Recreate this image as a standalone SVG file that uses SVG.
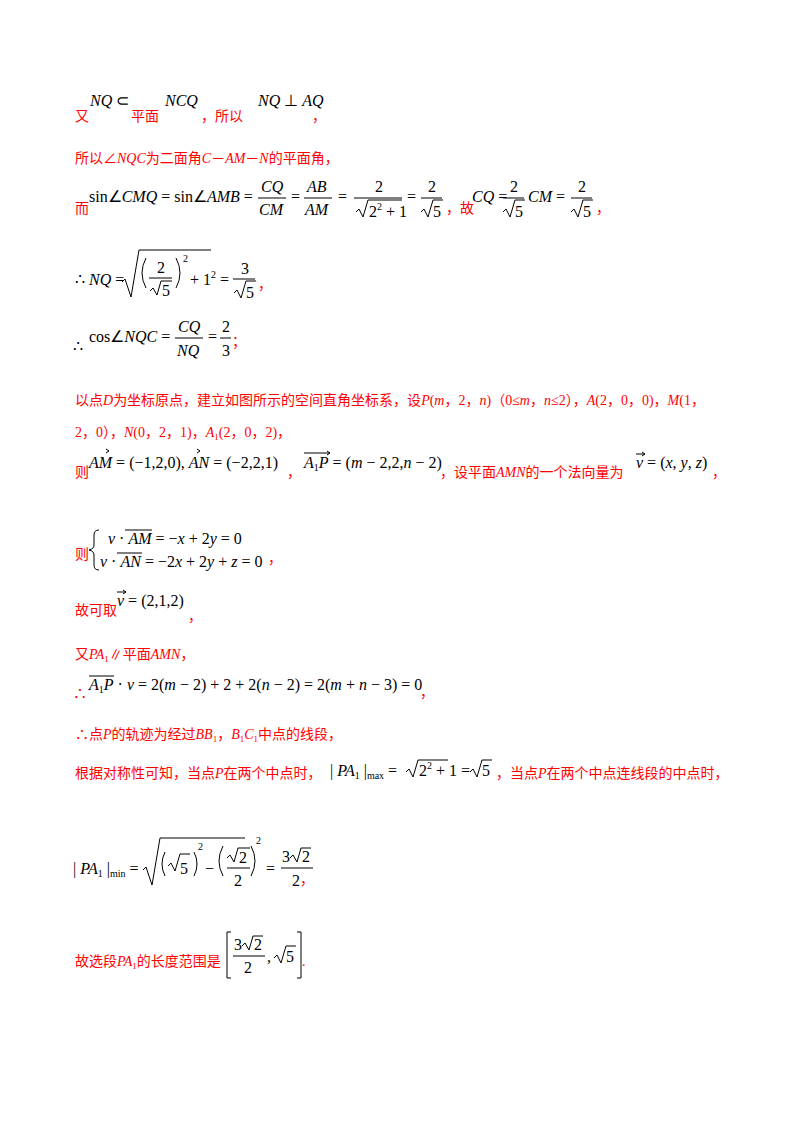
<svg xmlns="http://www.w3.org/2000/svg" width="800" height="1132" viewBox="0 0 800 1132">
<style>
.r{fill:#f00;font-family:"Liberation Serif","Noto Sans CJK SC",serif;font-size:14px}
.m{fill:#000;font-family:"Liberation Serif",serif;font-size:16px}
.i{font-style:italic}
.s{font-size:10px}
line,path.k{stroke:#000;stroke-width:1;fill:none}
</style>
<rect width="800" height="1132" fill="#fff"/>
<g id="l1">
<text class="r" x="75" y="121">又</text>
<text class="m" x="90" y="106"><tspan class="i">NQ</tspan> ⊂</text>
<text class="r" x="131" y="121">平面</text>
<text class="m i" x="165" y="106">NCQ</text>
<text class="r" x="201" y="121">，所以</text>
<text class="m" x="258" y="106"><tspan class="i">NQ</tspan> ⊥ <tspan class="i">AQ</tspan></text>
<text class="r" x="312" y="121">，</text>
</g>
<g id="l2"><text class="r" x="75" y="163">所以∠<tspan font-style="italic">NQC</tspan>为二面角<tspan font-style="italic">C</tspan>－<tspan font-style="italic">AM</tspan>－<tspan font-style="italic">N</tspan>的平面角，</text></g>
<g id="l3">
<text class="r" x="75" y="213">而</text>
<text class="m" x="89" y="202">sin∠<tspan class="i">CMQ</tspan> = sin∠<tspan class="i">AMB</tspan> =</text>
<text class="m i" x="261" y="192">CQ</text><line x1="258" y1="198" x2="286" y2="198"/><text class="m i" x="259" y="215">CM</text>
<text class="m" x="291" y="202">=</text>
<text class="m i" x="307" y="192">AB</text><line x1="304" y1="198" x2="332" y2="198"/><text class="m i" x="305" y="215">AM</text>
<text class="m" x="338" y="202">=</text>
<text class="m" x="375" y="192">2</text><line x1="354" y1="198" x2="402" y2="198"/>
<path class="k" d="M356 212 l3 -3 l4 8 l5 -17 h34"/><text class="m" x="369" y="217">2<tspan class="s" dy="-7">2</tspan><tspan dy="7"> + 1</tspan></text>
<text class="m" x="407" y="202">=</text>
<text class="m" x="428" y="192">2</text><line x1="421" y1="198" x2="442" y2="198"/>
<path class="k" d="M421 212 l3 -3 l4 8 l5 -17 h10"/><text class="m" x="433" y="217">5</text>
<text class="r" x="446" y="213">，故</text>
<text class="m" x="472" y="202"><tspan class="i">CQ</tspan> =</text>
<text class="m" x="510" y="192">2</text><line x1="503" y1="198" x2="524" y2="198"/>
<path class="k" d="M503 212 l3 -3 l4 8 l5 -17 h10"/><text class="m" x="515" y="217">5</text>
<text class="m" x="528" y="202"><tspan class="i">CM</tspan> =</text>
<text class="m" x="578" y="192">2</text><line x1="571" y1="198" x2="592" y2="198"/>
<path class="k" d="M571 212 l3 -3 l4 8 l5 -17 h10"/><text class="m" x="583" y="217">5</text>
<text class="r" x="596" y="213">，</text>
</g>
<g id="l4">
<text class="m" x="75" y="285">∴ <tspan class="i">NQ</tspan> =</text>
<path class="k" d="M122 282 l3 -3 l6 18 l8 -47 h72"/>
<path class="k" d="M146 258 q-8 15 0 30"/><path class="k" d="M176 258 q8 15 0 30"/>
<text class="m" x="157" y="273">2</text><line x1="149" y1="278" x2="172" y2="278"/>
<path class="k" d="M150 291 l3 -3 l4 7 l4 -14 h11"/><text class="m" x="162" y="296">5</text>
<text class="m s" x="183" y="262">2</text>
<text class="m" x="190" y="285">+ 1<tspan class="s" dy="-7">2</tspan></text>
<text class="m" x="220" y="285">=</text>
<text class="m" x="241" y="274">3</text><line x1="233" y1="279" x2="255" y2="279"/>
<path class="k" d="M234 293 l3 -3 l4 8 l5 -17 h10"/><text class="m" x="246" y="298">5</text>
<text class="r" x="258" y="289">，</text>
</g>
<g id="l5">
<text class="m" x="73" y="352">∴</text>
<text class="m" x="89" y="342">cos∠<tspan class="i">NQC</tspan> =</text>
<text class="m i" x="178" y="332">CQ</text><line x1="175" y1="338" x2="203" y2="338"/><text class="m i" x="177" y="356">NQ</text>
<text class="m" x="208" y="342">=</text>
<text class="m" x="222" y="332">2</text><line x1="220" y1="338" x2="231" y2="338"/><text class="m" x="222" y="356">3</text>
<text class="r" x="232" y="346">；</text>
</g>
<g id="l6">
<text class="r" x="75" y="405">以点<tspan font-style="italic">D</tspan>为坐标原点，建立如图所示的空间直角坐标系，设<tspan font-style="italic">P</tspan>(<tspan font-style="italic">m</tspan>，2，<tspan font-style="italic">n</tspan>)（0≤<tspan font-style="italic">m</tspan>，<tspan font-style="italic">n</tspan>≤2），<tspan font-style="italic">A</tspan>(2，0，0)，<tspan font-style="italic">M</tspan>(1，</text>
<text class="r" x="75" y="437">2，0），<tspan font-style="italic">N</tspan>(0，2，1)，<tspan font-style="italic">A</tspan><tspan font-size="9" dy="3">1</tspan><tspan dy="-3">(2，0，2)，</tspan></text>
</g>
<g id="l7">
<text class="r" x="75" y="477">则</text>
<text class="m" x="89" y="468"><tspan class="i">AM</tspan> = (−1,2,0), <tspan class="i">AN</tspan> = (−2,2,1)</text>
<path class="k" d="M106 453 l3 -2 l-3 -2"/><path class="k" d="M197 453 l3 -2 l-3 -2"/>
<text class="r" x="287" y="477">，</text>
<text class="m" x="304" y="468"><tspan class="i">A</tspan><tspan class="s" dy="3">1</tspan><tspan class="i" dy="-3">P</tspan> = (<tspan class="i">m</tspan> − 2,2,<tspan class="i">n</tspan> − 2)</text>
<line x1="304" y1="453" x2="330" y2="453"/><path class="k" d="M327 451 l3 2 l-3 2"/>
<text class="r" x="440" y="477">，设平面<tspan font-style="italic">AMN</tspan>的一个法向量为</text>
<text class="m" x="636" y="468"><tspan class="i">v</tspan> = (<tspan class="i">x</tspan>, <tspan class="i">y</tspan>, <tspan class="i">z</tspan>)</text>
<line x1="636" y1="454" x2="645" y2="454"/><path class="k" d="M642 452 l3 2 l-3 2"/>
<text class="r" x="712" y="477">，</text>
</g>
<g id="l8">
<text class="r" x="75" y="559">则</text>
<path class="k" d="M99 530 q-5 0 -5 5 v10 q0 4 -5 5 q5 1 5 5 v10 q0 5 5 5"/>
<text class="m" x="108" y="544"><tspan class="i">v</tspan> · <tspan class="i">AM</tspan> = −<tspan class="i">x</tspan> + 2<tspan class="i">y</tspan> = 0</text>
<line x1="125" y1="530" x2="152" y2="530"/>
<text class="m" x="100" y="567"><tspan class="i">v</tspan> · <tspan class="i">AN</tspan> = −2<tspan class="i">x</tspan> + 2<tspan class="i">y</tspan> + <tspan class="i">z</tspan> = 0</text>
<line x1="117" y1="553" x2="142" y2="553"/>
<text class="r" x="268" y="563">，</text>
</g>
<g id="l9">
<text class="r" x="75" y="615">故可取</text>
<text class="m" x="117" y="606"><tspan class="i">v</tspan> = (2,1,2)</text>
<line x1="117" y1="592" x2="126" y2="592"/><path class="k" d="M123 590 l3 2 l-3 2"/>
<text class="r" x="188" y="621">，</text>
</g>
<g id="l10"><text class="r" x="75" y="659">又<tspan font-style="italic">PA</tspan><tspan font-size="9" dy="3">1</tspan><tspan dy="-3">∥平面</tspan><tspan font-style="italic">AMN</tspan>，</text></g>
<g id="l11">
<text class="r" x="73" y="698">∴</text>
<text class="m" x="89" y="690"><tspan class="i">A</tspan><tspan class="s" dy="3">1</tspan><tspan class="i" dy="-3">P</tspan> · <tspan class="i">v</tspan> = 2(<tspan class="i">m</tspan> − 2) + 2 + 2(<tspan class="i">n</tspan> − 2) = 2(<tspan class="i">m</tspan> + <tspan class="i">n</tspan> − 3) = 0</text>
<line x1="89" y1="676" x2="114" y2="676"/>
<text class="r" x="420" y="697">，</text>
</g>
<g id="l12"><text class="r" x="75" y="739">∴点<tspan font-style="italic">P</tspan>的轨迹为经过<tspan font-style="italic">BB</tspan><tspan font-size="9" dy="3">1</tspan><tspan dy="-3">，</tspan><tspan font-style="italic">B</tspan><tspan font-size="9" dy="3">1</tspan><tspan font-style="italic" dy="-3">C</tspan><tspan font-size="9" dy="3">1</tspan><tspan dy="-3">中点的线段，</tspan></text></g>
<g id="l13">
<text class="r" x="75" y="778">根据对称性可知，当点<tspan font-style="italic">P</tspan>在两个中点时，</text>
<text class="m" x="330" y="776">| <tspan class="i">PA</tspan><tspan class="s" dy="3">1</tspan><tspan dy="-3"> |</tspan><tspan class="s" dy="3">max</tspan><tspan dy="-3"> =</tspan></text>
<path class="k" d="M406 772 l3 -3 l4 8 l5 -17 h30"/>
<text class="m" x="419" y="776">2<tspan class="s" dy="-7">2</tspan><tspan dy="7"> + 1 =</tspan></text>
<path class="k" d="M470 772 l3 -3 l4 8 l5 -17 h10"/><text class="m" x="482" y="776">5</text>
<text class="r" x="496" y="778">，当点<tspan font-style="italic">P</tspan>在两个中点连线段的中点时，</text>
</g>
<g id="l14">
<text class="m" x="73" y="874">| <tspan class="i">PA</tspan><tspan class="s" dy="3">1</tspan><tspan dy="-3"> |</tspan><tspan class="s" dy="3">min</tspan><tspan dy="-3"> =</tspan></text>
<path class="k" d="M143 870 l3 -3 l6 18 l8 -47 h85"/>
<path class="k" d="M165 852 q-6 12 0 24"/><path class="k" d="M194 852 q6 12 0 24"/>
<path class="k" d="M168 866 l3 -3 l4 8 l5 -17 h10"/><text class="m" x="180" y="874">5</text>
<text class="m s" x="198" y="850">2</text>
<text class="m" x="205" y="874">−</text>
<path class="k" d="M223 846 q-8 15 0 30"/><path class="k" d="M251 846 q8 15 0 30"/>
<path class="k" d="M227 858 l3 -3 l4 7 l4 -14 h12"/><text class="m" x="239" y="863">2</text>
<line x1="227" y1="868" x2="250" y2="868"/><text class="m" x="234" y="886">2</text>
<text class="m s" x="256" y="844">2</text>
<text class="m" x="266" y="874">=</text>
<text class="m" x="282" y="862">3</text><path class="k" d="M290 858 l3 -3 l4 7 l4 -14 h10"/><text class="m" x="302" y="862">2</text>
<line x1="281" y1="868" x2="313" y2="868"/><text class="m" x="292" y="886">2</text>
<text class="r" x="300" y="884">，</text>
</g>
<g id="l15">
<text class="r" x="75" y="966">故选段<tspan font-style="italic">PA</tspan><tspan font-size="9" dy="3">1</tspan><tspan dy="-3">的长度范围是</tspan></text>
<path class="k" d="M231 932 h-4 v46 h4"/><path class="k" d="M297 932 h4 v46 h-4"/>
<text class="m" x="234" y="950">3</text><path class="k" d="M242 946 l3 -3 l4 7 l4 -14 h10"/><text class="m" x="254" y="950">2</text>
<line x1="233" y1="956" x2="265" y2="956"/><text class="m" x="244" y="973">2</text>
<text class="m" x="267" y="962">,</text>
<path class="k" d="M274 958 l3 -3 l4 8 l5 -17 h10"/><text class="m" x="286" y="962">5</text>
<text class="r" x="302" y="966">.</text>
</g>
</svg>
